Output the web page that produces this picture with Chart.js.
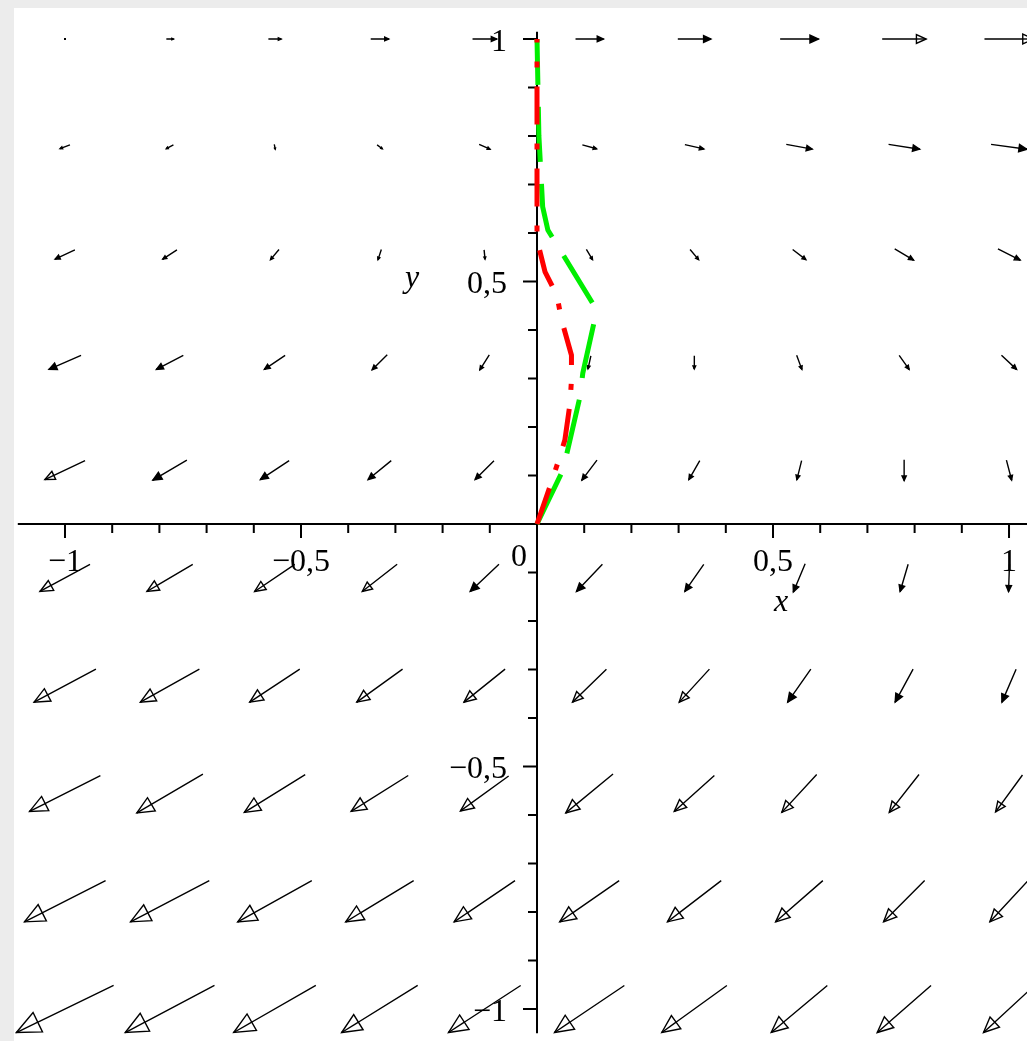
<!DOCTYPE html>
<html>
<head>
<meta charset="utf-8">
<script src="https://cdn.jsdelivr.net/npm/chart.js@4.4.1/dist/chart.umd.min.js"></script>
<style>
  html, body { margin: 0; padding: 0; background: #fff; }
  canvas { display: block; }
</style>
</head>
<body>
<canvas id="dfield" width="1027" height="1041"></canvas>
<script>
// grid points of the direction field (10 x 10)
const gridX = [-1, -0.7778, -0.5556, -0.3333, -0.1111, 0.1111, 0.3333, 0.5556, 0.7778, 1];
const gridY = [1, 0.7778, 0.5556, 0.3333, 0.1111, -0.1111, -0.3333, -0.5556, -0.7778, -1];

// arrow components, one row per gridY value
const arrowU = [
  [0, 0.015, 0.027, 0.038, 0.051, 0.059, 0.070, 0.081, 0.093, 0.104],
  [-0.021, -0.015, 0.002, 0.011, 0.023, 0.030, 0.040, 0.055, 0.066, 0.076],
  [-0.042, -0.030, -0.018, -0.007, 0.002, 0.013, 0.018, 0.028, 0.040, 0.047],
  [-0.068, -0.057, -0.044, -0.032, -0.020, -0.006, 0, 0.011, 0.021, 0.032],
  [-0.085, -0.072, -0.061, -0.049, -0.040, -0.032, -0.023, -0.010, 0, 0.011],
  [-0.106, -0.097, -0.085, -0.074, -0.061, -0.055, -0.040, -0.025, -0.017, -0.002],
  [-0.131, -0.125, -0.106, -0.097, -0.087, -0.072, -0.064, -0.049, -0.038, -0.030],
  [-0.150, -0.140, -0.129, -0.121, -0.102, -0.100, -0.085, -0.074, -0.063, -0.057],
  [-0.172, -0.167, -0.157, -0.144, -0.129, -0.126, -0.114, -0.100, -0.087, -0.081],
  [-0.206, -0.189, -0.174, -0.161, -0.153, -0.148, -0.138, -0.119, -0.114, -0.108]
];
const arrowV = [
  [0, 0, 0, 0, 0, 0, 0, 0, 0, 0],
  [-0.008, -0.008, -0.010, -0.008, -0.010, -0.008, -0.009, -0.010, -0.010, -0.010],
  [-0.019, -0.019, -0.021, -0.021, -0.019, -0.021, -0.021, -0.021, -0.023, -0.023],
  [-0.029, -0.029, -0.029, -0.031, -0.031, -0.027, -0.027, -0.029, -0.029, -0.029],
  [-0.039, -0.041, -0.039, -0.039, -0.039, -0.041, -0.039, -0.039, -0.043, -0.041],
  [-0.056, -0.056, -0.056, -0.056, -0.056, -0.056, -0.056, -0.058, -0.056, -0.056],
  [-0.068, -0.068, -0.068, -0.068, -0.068, -0.068, -0.068, -0.068, -0.068, -0.068],
  [-0.074, -0.080, -0.078, -0.074, -0.072, -0.080, -0.074, -0.078, -0.078, -0.076],
  [-0.085, -0.085, -0.085, -0.085, -0.085, -0.085, -0.085, -0.085, -0.085, -0.085],
  [-0.097, -0.097, -0.097, -0.097, -0.097, -0.097, -0.097, -0.097, -0.097, -0.097]
];

// solution curves from the origin
const greenX = [0, 0.055, 0.066, 0.091, 0.097, 0.123, 0.118, 0.049, 0.023, 0.012, 0.009, 0.004, 0.002, 0];
const greenY = [0, 0.111, 0.157, 0.262, 0.311, 0.425, 0.455, 0.565, 0.606, 0.654, 0.710, 0.800, 0.900, 1.0];
const redX = [0, 0.027, 0.044, 0.059, 0.070, 0.073, 0.073, 0.052, 0.042, 0.017, 0, 0, 0];
const redY = [0, 0.076, 0.126, 0.173, 0.249, 0.297, 0.348, 0.421, 0.472, 0.520, 0.586, 0.637, 1.0];

// axis labels
const xTickValues = [-1, -0.5, 0.5, 1];
const xTickLabels = ['−1', '−0,5', '0,5', '1'];
const yTickValues = [1, 0.5, -0.5, -1];
const yTickLabels = ['1', '0,5', '−0,5', '−1'];

const shaftData = [];
gridY.forEach((gy, r) => {
  gridX.forEach((gx, c) => {
    const u = arrowU[r][c], v = arrowV[r][c];
    shaftData.push({x: gx - u / 2, y: gy - v / 2}, {x: gx + u / 2, y: gy + v / 2}, {x: gx, y: null});
  });
});

const fieldPlugin = {
  id: 'fieldPlugin',
  beforeDraw(chart) {
    const ctx = chart.ctx;
    ctx.save();
    ctx.fillStyle = '#ececec';
    ctx.fillRect(0, 0, chart.width, chart.height);
    ctx.fillStyle = '#ffffff';
    ctx.fillRect(14, 8, chart.width - 14, chart.height - 8);
    ctx.restore();
  },
  beforeDatasetsDraw(chart) {
    const ctx = chart.ctx, xs = chart.scales.x, ys = chart.scales.y;
    const x0 = xs.getPixelForValue(0), y0 = ys.getPixelForValue(0);
    ctx.save();
    ctx.strokeStyle = '#000';
    ctx.lineWidth = 2;
    ctx.beginPath();
    ctx.moveTo(xs.getPixelForValue(-1.1), y0);
    ctx.lineTo(chart.width, y0);
    ctx.moveTo(x0, ys.getPixelForValue(1.015));
    ctx.lineTo(x0, ys.getPixelForValue(-1.05));
    // ticks every 0.1
    for (let k = -10; k <= 10; k++) {
      if (k === 0) continue;
      const len = (k % 5 === 0) ? 14 : 9;
      const px = xs.getPixelForValue(k / 10);
      ctx.moveTo(px, y0);
      ctx.lineTo(px, y0 + len);
      const py = ys.getPixelForValue(k / 10);
      ctx.moveTo(x0, py);
      ctx.lineTo(x0 - len, py);
    }
    ctx.stroke();

    ctx.fillStyle = '#000';
    ctx.font = '32px "Liberation Serif", "DejaVu Serif", serif';
    ctx.textBaseline = 'alphabetic';
    ctx.textAlign = 'center';
    xTickValues.forEach((v, i) => {
      ctx.fillText(xTickLabels[i], xs.getPixelForValue(v), y0 + 47);
    });
    ctx.textAlign = 'right';
    ctx.fillText('0', x0 - 10, y0 + 42);
    yTickValues.forEach((v, i) => {
      ctx.fillText(yTickLabels[i], x0 - 30, ys.getPixelForValue(v) + 12);
    });
    ctx.font = 'italic 32px "Liberation Serif", "DejaVu Serif", serif';
    ctx.textAlign = 'center';
    ctx.fillText('y', x0 - 125, ys.getPixelForValue(0.5) + 6);
    ctx.fillText('x', xs.getPixelForValue(0.5) + 8, y0 + 87);
    ctx.restore();
  },
  afterDatasetDraw(chart, args) {
    if (args.index !== 0) return;
    const ctx = chart.ctx, xs = chart.scales.x, ys = chart.scales.y;
    ctx.save();
    ctx.strokeStyle = '#000';
    ctx.lineWidth = 1.4;
    gridY.forEach((gy, r) => {
      gridX.forEach((gx, c) => {
        const u = arrowU[r][c], v = arrowV[r][c];
        const tx = xs.getPixelForValue(gx - u / 2), ty = ys.getPixelForValue(gy - v / 2);
        const hx = xs.getPixelForValue(gx + u / 2), hy = ys.getPixelForValue(gy + v / 2);
        const L = Math.hypot(hx - tx, hy - ty);
        if (L < 2) {
          ctx.fillStyle = '#000';
          ctx.fillRect(hx - 1, hy - 1, 2, 2);
          return;
        }
        const dx = (hx - tx) / L, dy = (hy - ty) / L;
        const hl = 0.22 * L, hw = 0.1 * L;
        const bx = hx - dx * hl, by = hy - dy * hl;
        ctx.beginPath();
        ctx.moveTo(hx, hy);
        ctx.lineTo(bx - dy * hw, by + dx * hw);
        ctx.lineTo(bx + dy * hw, by - dx * hw);
        ctx.closePath();
        ctx.fillStyle = L > 42 ? '#fff' : '#000';
        ctx.fill();
        ctx.stroke();
        ctx.beginPath();
        ctx.moveTo(bx, by);
        ctx.lineTo(hx, hy);
        ctx.stroke();
      });
    });
    ctx.restore();
  }
};

new Chart(document.getElementById('dfield'), {
  type: 'scatter',
  data: {
    datasets: [{
      label: 'field',
      data: shaftData,
      showLine: true,
      spanGaps: false,
      borderColor: '#000',
      borderWidth: 1.4,
      pointRadius: 0,
      order: 3
    }, {
      label: 'green',
      data: greenX.map((x, i) => ({x: x, y: greenY[i]})),
      showLine: true,
      borderColor: '#00ee00',
      borderWidth: 5,
      borderDash: [55, 22],
      pointRadius: 0,
      order: 2
    }, {
      label: 'red',
      data: redX.map((x, i) => ({x: x, y: redY[i]})),
      showLine: true,
      borderColor: '#ff0000',
      borderWidth: 5,
      borderDash: [38, 19, 6, 19],
      pointRadius: 0,
      order: 1
    }]
  },
  options: {
    responsive: false,
    animation: false,
    devicePixelRatio: 1,
    layout: { padding: 0 },
    plugins: { legend: { display: false }, tooltip: { enabled: false } },
    scales: {
      x: { type: 'linear', min: -1.1377, max: 1.0381, display: false },
      y: { type: 'linear', min: -1.066, max: 1.0804, display: false }
    }
  },
  plugins: [fieldPlugin]
});
</script>
</body>
</html>
